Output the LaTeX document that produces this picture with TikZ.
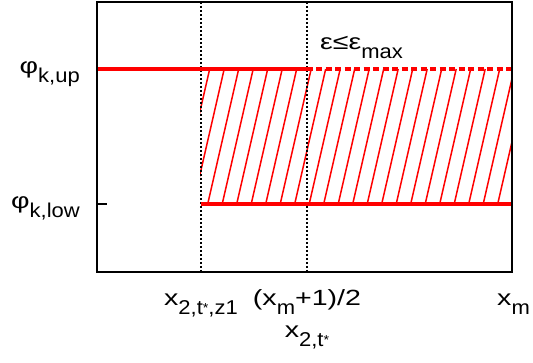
\documentclass[tikz,border=0pt]{standalone}
\usepackage{fontspec}
\setmainfont{Liberation Sans}
\newfontfamily\plotfont{Liberation Sans}[FakeStretch=1.3]
\newfontfamily\idxfont{Liberation Sans}[FakeStretch=1.1]
\usetikzlibrary{positioning}
% gnuplot-like lowered index and raised star
\newcommand{\lowidx}[1]{\raisebox{-9pt}{\idxfont\fontsize{20}{20}\selectfont #1}}
\newcommand{\tstar}{\raisebox{2pt}{\fontsize{13}{13}\selectfont *}}

\begin{document}
\begin{tikzpicture}[
    x=1pt, y=-1pt,
    frame/.style={draw=black, line width=2pt},
    guide/.style={draw=black, line width=2pt, dash pattern=on 2pt off 2pt},
    bound/.style={draw=red, line width=3.3pt},
    hatch/.style={draw=red, line width=1.5pt},
    lbl/.style={font=\plotfont\fontsize{22}{26}\selectfont, inner sep=0pt}
]
    \useasboundingbox (0,0) rectangle (533,363);

    % hatched band between the bounds
    \begin{scope}
        \clip (200,69) rectangle (512,204);
        \foreach \i in {-3,...,21}
            \draw[hatch] (207.7+14.5*\i,204) -- ++(31,-135);
    \end{scope}

    % tick
    \draw[black, line width=1.5pt] (97,204) -- (107,204);

    % guides
    \coordinate (zt) at (200.5,2);
    \coordinate (zb) at (200.5,272);
    \coordinate (mt) at (306.5,2);
    \coordinate (mb) at (306.5,272);
    \draw[guide] (zt) -- (zb);
    \draw[guide] (mt) -- (mb);

    % bounds
    \coordinate (upl) at (97,69);
    \coordinate (upm) at (306.5,69);
    \coordinate (upr) at (512,69);
    \coordinate (lol) at (200.5,204);
    \coordinate (lor) at (512,204);
    \draw[bound] (upl) -- (upm);
    \draw[bound, dash pattern=on 6pt off 3.5pt] (upm) -- (upr);
    \draw[bound] (lol) -- (lor);

    % frame
    \draw[frame] (97,2) rectangle (512,272);

    % labels
    \node (phiup) [lbl, anchor=base east] at (80,73.5) {φ\lowidx{k,up}};
    \node (philow) [lbl, anchor=base east] at (80,209) {φ\lowidx{k,low}};
    \node (eps) [lbl, anchor=base west] at (320,50) {ε≤ε\lowidx{max}};
    \node (xz) [lbl, anchor=base] at (201,306) {x\lowidx{2,t\tstar,z1}};
    \node (xhalf) [lbl, anchor=base] at (307,306) {(x\lowidx{m}+1)/2};
    \node (xt) [lbl, anchor=base] at (307,338) {x\lowidx{2,t\tstar}};
    \node (xm) [lbl, anchor=base west] at (497,306) {x\lowidx{m}};
\end{tikzpicture}
\end{document}
